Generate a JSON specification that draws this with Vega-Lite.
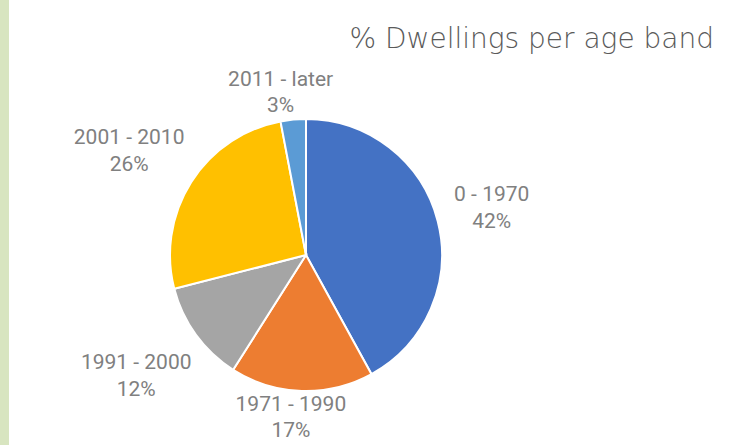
{
  "$schema": "https://vega.github.io/schema/vega-lite/v6.json",
  "background": "white",
  "padding": 0,
  "spacing": 0,
  "config": {"view": {"stroke": null}, "concat": {"spacing": 0}},
  "datasets": {
    "bands": [
      {"band": "0 - 1970", "share": 0.42},
      {"band": "1971 - 1990", "share": 0.17},
      {"band": "1991 - 2000", "share": 0.12},
      {"band": "2001 - 2010", "share": 0.26},
      {"band": "2011 - later", "share": 0.03}
    ]
  },
  "hconcat": [
    {
      "width": 9,
      "height": 445,
      "view": {"fill": "#d8e5c0", "stroke": null},
      "data": {"values": [{}]},
      "mark": {"type": "text", "text": ""},
      "encoding": {}
    },
    {
      "width": 594,
      "height": 510,
      "data": {"name": "bands"},
      "title": {
        "text": "% Dwellings per age band",
        "anchor": "end",
        "orient": "top",
        "font": "DejaVu Sans",
        "fontSize": 28,
        "fontWeight": 300,
        "color": "#5a5a5a",
        "baseline": "alphabetic",
        "offset": 0,
        "dx": 111,
        "dy": 76
      },
      "encoding": {
        "theta": {"field": "share", "type": "quantitative", "stack": true},
        "order": {"field": "band", "type": "nominal", "sort": "ascending"},
        "color": {
          "field": "band",
          "type": "nominal",
          "scale": {
            "domain": ["0 - 1970", "1971 - 1990", "1991 - 2000", "2001 - 2010", "2011 - later"],
            "range": ["#4472C4", "#ED7D31", "#A5A5A5", "#FFC000", "#5B9BD5"]
          },
          "legend": null
        }
      },
      "layer": [
        {
          "mark": {"type": "arc", "outerRadius": 136, "stroke": "white", "strokeWidth": 2}
        },
        {
          "mark": {"type": "text", "radius": 200, "dx": -8, "dy": -10, "font": "Roboto", "fontSize": 21},
          "encoding": {
            "text": {"condition": {"test": "datum.band === '1971 - 1990' || datum.band === '2011 - later'", "value": ""}, "field": "band", "type": "nominal"},
            "color": {"value": "#808080"},
            "detail": {"field": "band", "type": "nominal"}
          }
        },
        {
          "mark": {"type": "text", "radius": 200, "dx": -8, "dy": 17, "font": "Roboto", "fontSize": 21},
          "encoding": {
            "text": {"condition": {"test": "datum.band === '1971 - 1990' || datum.band === '2011 - later'", "value": ""}, "field": "share", "type": "quantitative", "format": ".0%"},
            "color": {"value": "#808080"},
            "detail": {"field": "band", "type": "nominal"}
          }
        },
        {
          "mark": {"type": "text", "radius": 163, "dx": -10, "dy": -13, "font": "Roboto", "fontSize": 21},
          "encoding": {
            "text": {"condition": {"test": "datum.band === '1971 - 1990' || datum.band === '2011 - later'", "field": "band", "type": "nominal"}, "value": ""},
            "color": {"value": "#808080"},
            "detail": {"field": "band", "type": "nominal"}
          }
        },
        {
          "mark": {"type": "text", "radius": 163, "dx": -10, "dy": 13, "font": "Roboto", "fontSize": 21},
          "encoding": {
            "text": {"condition": {"test": "datum.band === '1971 - 1990' || datum.band === '2011 - later'", "field": "share", "type": "quantitative", "format": ".0%"}, "value": ""},
            "color": {"value": "#808080"},
            "detail": {"field": "band", "type": "nominal"}
          }
        }
      ]
    }
  ]
}
